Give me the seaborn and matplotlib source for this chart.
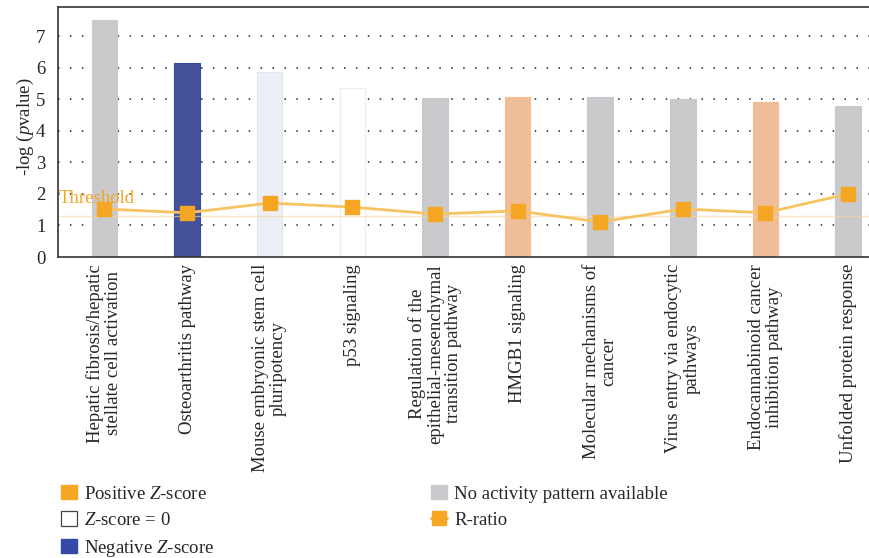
import matplotlib
matplotlib.use("Agg")
import matplotlib.pyplot as plt
from matplotlib.lines import Line2D
from matplotlib.patches import Patch
import seaborn as sns
import pandas as pd
import numpy as np

# Canonical pathways and their enrichment results
pathways = [
    "Hepatic fibrosis/hepatic\nstellate cell activation",
    "Osteoarthritis pathway",
    "Mouse embryonic stem cell\npluripotency",
    "p53 signaling",
    "Regulation of the\nepithelial-mesenchymal\ntransition pathway",
    "HMGB1 signaling",
    "Molecular mechanisms of\ncancer",
    "Virus entry via endocytic\npathways",
    "Endocannabinoid cancer\ninhibition pathway",
    "Unfolded protein response",
]
neg_log_p = [7.51, 6.14, 5.86, 5.35, 5.04, 5.07, 5.07, 5.00, 4.91, 4.78]
r_ratio = [1.52, 1.40, 1.71, 1.58, 1.36, 1.46, 1.11, 1.52, 1.40, 2.00]
activity = ["none", "negative", "zero_light", "zero", "none",
            "positive", "none", "none", "positive", "none"]
threshold = 1.3
y_ticks = [0, 1, 2, 3, 4, 5, 6, 7]

fill = {
    "none": "#c9c9ce",
    "negative": "#3549a8",
    "zero_light": "#eceef7",
    "zero": "#ffffff",
    "positive": "#fbbc8b",
}
edge = {
    "none": "#c9c9ce",
    "negative": "#3549a8",
    "zero_light": "#e2e4f0",
    "zero": "#ececf0",
    "positive": "#fbbc8b",
}
ORANGE = "#f5a623"
LINE = "#f8c462"

sns.set_theme(style="white")
plt.rcParams["font.family"] = ["Liberation Serif", "DejaVu Serif"]
plt.rcParams["mathtext.fontset"] = "custom"
plt.rcParams["mathtext.rm"] = "Liberation Serif"
plt.rcParams["mathtext.it"] = "Liberation Serif:italic"

df = pd.DataFrame({"pathway": pathways, "value": neg_log_p, "ratio": r_ratio,
                   "activity": activity})

fig = plt.figure(figsize=(8.7, 5.58), dpi=100)
ax = fig.add_axes([58 / 870, 301 / 558, 836.5 / 870, 250 / 558])

sns.barplot(data=df, x="pathway", y="value", hue="pathway",
            palette=[fill[a] for a in activity], legend=False,
            width=0.31, ax=ax, zorder=2)
for patch, a in zip(ax.patches, activity):
    patch.set_edgecolor(edge[a])
    patch.set_linewidth(0.8)

ax.set_axisbelow(True)
for yv in y_ticks[1:]:
    ax.axhline(yv, color="#222222", lw=1.1, ls=(0, (1, 6.8)), zorder=0.5)

# threshold marker
ax.axhline(threshold, color="#f8d3a0", lw=1.0, alpha=0.6, zorder=2.5)
ax.text(-0.56, 1.70, "Threshold", color=ORANGE, fontsize=13.5,
        ha="left", va="baseline", zorder=4)

# ratio line with square markers
xpos = np.arange(len(pathways))
ax.plot(xpos, df["ratio"], color=LINE, lw=2.0, marker="s", markersize=9.5,
        markerfacecolor=ORANGE, markeredgecolor=ORANGE, zorder=5)

ax.set_xlim(-0.562, len(pathways) - 1 + 0.562)
ax.set_ylim(0, 7.92)
ax.set_yticks(y_ticks)
ax.set_yticklabels([str(v) for v in y_ticks], fontsize=13.5)
ax.set_xlabel("")
ax.set_ylabel("-log ($\\it{p}$value)", fontsize=13.5, labelpad=1.5)
ax.yaxis.set_label_coords(-22 / 58 * (58 / 836.5), 0.52)
ax.set_xticks(xpos)
ax.set_xticklabels(pathways, rotation=90, fontsize=13.5, linespacing=1.08,
                   ha="center", va="top")
ax.tick_params(axis="y", length=0, pad=9)
ax.tick_params(axis="x", length=0, pad=5)

for side in ["top", "left", "bottom", "right"]:
    ax.spines[side].set_color("#333333")
    ax.spines[side].set_linewidth(1.2)

handles = [
    Patch(facecolor=ORANGE, edgecolor=ORANGE),
    Patch(facecolor="white", edgecolor="#444444", linewidth=0.9),
    Patch(facecolor="#3549a8", edgecolor="#3549a8"),
    Patch(facecolor="#c9c9ce", edgecolor="#c9c9ce"),
    Line2D([0], [0], color=ORANGE, lw=2, marker="s", markersize=9.5,
           markerfacecolor=ORANGE, markeredgecolor=ORANGE),
]
labels = ["Positive $Z$-score", "$Z$-score = 0", "Negative $Z$-score",
          "No activity pattern available", "R-ratio"]
fig.legend(handles, labels, ncol=2, loc="upper left",
           bbox_to_anchor=(61 / 870, 1 - 485 / 558), frameon=False,
           borderpad=0, borderaxespad=0,
           fontsize=13.5, handlelength=0.85, handleheight=0.8,
           handletextpad=0.37, columnspacing=11.6, labelspacing=0.46)

fig.savefig("out.png", dpi=100)
